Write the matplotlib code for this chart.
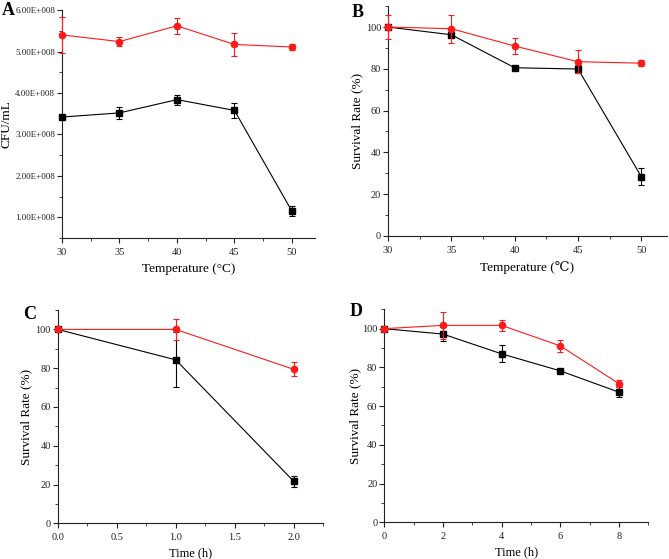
import numpy as np
import matplotlib.pyplot as plt
from matplotlib.ticker import FuncFormatter, AutoMinorLocator

plt.rcParams['font.family'] = ['Liberation Serif', 'DejaVu Serif']

# panel A: CFU/mL vs temperature
temp = [30, 35, 40, 45, 50]
a_red = [5.40e8, 5.24e8, 5.62e8, 5.17e8, 5.11e8]
a_red_err = [0.43e8, 0.10e8, 0.20e8, 0.27e8, 0.07e8]
a_black = [3.42e8, 3.52e8, 3.84e8, 3.58e8, 1.15e8]
a_black_err = [0.0, 0.15e8, 0.12e8, 0.18e8, 0.12e8]

# panel B: survival vs temperature
b_red = [100, 99.2, 90.9, 83.4, 82.7]
b_red_err = [5.6, 6.7, 4.0, 5.4, 1.3]
b_black = [100, 96.3, 80.5, 79.9, 28.3]
b_black_err = [0.0, 0.8, 1.0, 1.8, 4.0]

# panel C: survival vs time (h)
c_time = [0.0, 1.0, 2.0]
c_red = [100, 100, 79.4]
c_red_err = [0.0, 5.3, 3.6]
c_black = [100, 84.3, 21.6]
c_black_err = [0.0, 14.2, 2.8]

# panel D: survival vs time (h)
d_time = [0, 2, 4, 6, 8]
d_red = [100, 101.7, 101.7, 91.1, 71.6]
d_red_err = [0.0, 7.0, 3.0, 3.0, 1.8]
d_black = [100, 97.2, 87.0, 78.2, 67.2]
d_black_err = [0.0, 3.8, 4.4, 1.0, 2.5]

fig = plt.figure(figsize=(6.69, 5.59), dpi=100)

def style(ax):
    for s in ['top', 'right']:
        ax.spines[s].set_visible(False)
    for s in ['left', 'bottom']:
        ax.spines[s].set_linewidth(0.8)
        ax.spines[s].set_color('#222222')
    ax.xaxis.set_minor_locator(AutoMinorLocator(2))
    ax.yaxis.set_minor_locator(AutoMinorLocator(2))
    ax.tick_params(which='major', direction='out', length=3.5, width=0.8, labelsize=7.5, colors='#222222')
    ax.tick_params(which='minor', direction='out', length=2, width=0.6, colors='#222222')
    ax.tick_params(axis='y', which='major', pad=1.5)

def series(ax, x, red, red_err, black, black_err):
    ax.errorbar(x, black, yerr=black_err, color='black', marker='s', ms=4.5,
                lw=0.8, elinewidth=0.8, capsize=2.5, capthick=0.8, clip_on=False, zorder=3)
    ax.errorbar(x, red, yerr=red_err, color='#ff1a1a', marker='o', ms=4.5,
                lw=0.8, elinewidth=0.8, capsize=2.5, capthick=0.8, clip_on=False, zorder=4)

axA = fig.add_axes([0.0927, 0.574, 0.378, 0.408])
series(axA, temp, a_red, a_red_err, a_black, a_black_err)
axA.set_xlim(30, 52)
axA.set_ylim(0.5e8, 6e8)
axA.set_xticks(temp)
axA.set_yticks([1e8, 2e8, 3e8, 4e8, 5e8, 6e8])
axA.yaxis.set_major_formatter(FuncFormatter(lambda v, p: '%.2fE+008' % (v / 1e8)))
style(axA)
axA.tick_params(axis='y', labelsize=6.5)
axA.set_ylabel('CFU/mL', fontsize=9.5)
axA.yaxis.set_label_coords(-0.194, 0.5)
axA.set_xlabel('Temperature (°C)', fontsize=9.5, labelpad=4.5)
fig.text(0.003, 0.982, 'A', fontsize=13, fontweight='bold', va='center')

axB = fig.add_axes([0.580, 0.578, 0.4166, 0.411])
series(axB, temp, b_red, b_red_err, b_black, b_black_err)
axB.set_xlim(30, 52)
axB.set_ylim(0, 110)
axB.set_xticks(temp)
axB.set_yticks([0, 20, 40, 60, 80, 100])
style(axB)
axB.set_ylabel('Survival Rate (%)', fontsize=9.5)
axB.yaxis.set_label_coords(-0.090, 0.5)
axB.set_xlabel('Temperature (℃)', fontsize=9.5, labelpad=4.5)
fig.text(0.526, 0.978, 'B', fontsize=13, fontweight='bold', va='center')

axC = fig.add_axes([0.0862, 0.0639, 0.3971, 0.3815])
series(axC, c_time, c_red, c_red_err, c_black, c_black_err)
axC.set_xlim(0, 2.25)
axC.set_ylim(0, 110)
axC.set_xticks([0.0, 0.5, 1.0, 1.5, 2.0])
axC.xaxis.set_major_formatter(FuncFormatter(lambda v, p: '%.1f' % v))
axC.set_yticks([0, 20, 40, 60, 80, 100])
style(axC)
axC.set_ylabel('Survival Rate (%)', fontsize=9.5)
axC.yaxis.set_label_coords(-0.094, 0.5)
axC.set_xlabel('Time (h)', fontsize=9, labelpad=3.5)
fig.text(0.034, 0.437, 'C', fontsize=13, fontweight='bold', va='center')

axD = fig.add_axes([0.5744, 0.0657, 0.3946, 0.381])
series(axD, d_time, d_red, d_red_err, d_black, d_black_err)
axD.set_xlim(0, 9)
axD.set_ylim(0, 110)
axD.set_xticks([0, 2, 4, 6, 8])
axD.set_yticks([0, 20, 40, 60, 80, 100])
style(axD)
axD.set_ylabel('Survival Rate (%)', fontsize=9.5)
axD.yaxis.set_label_coords(-0.086, 0.5)
axD.set_xlabel('Time (h)', fontsize=9, labelpad=3.5)
fig.text(0.523, 0.443, 'D', fontsize=13, fontweight='bold', va='center')

fig.savefig('out.png', dpi=100)
